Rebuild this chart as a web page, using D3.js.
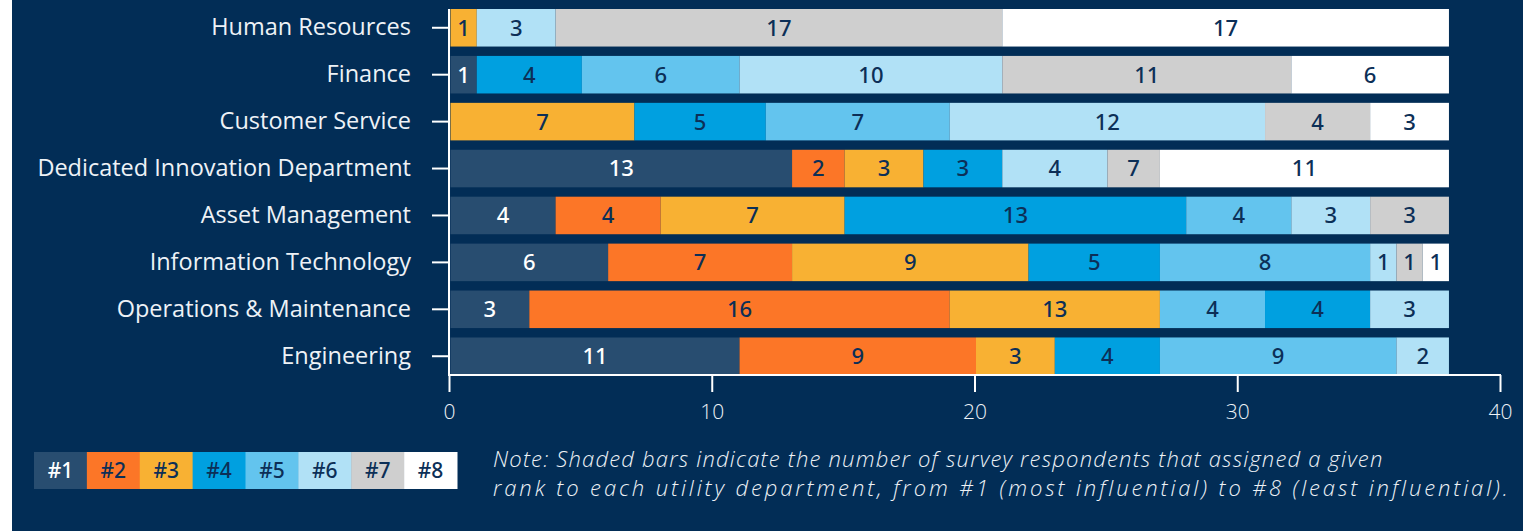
<!DOCTYPE html>
<html>
<head>
<meta charset="utf-8">
<script src="https://cdn.jsdelivr.net/npm/d3@7"></script>
<style>
  html, body { margin: 0; padding: 0; background: #fff; }
  svg { display: block; }
  .axis text { font-family: "Open Sans", sans-serif; fill: #eef2f6; }
  .axis path, .axis line { stroke: #fff; stroke-width: 2; }
</style>
</head>
<body>
<div id="chart"></div>
<script>
var categories = ["Human Resources", "Finance", "Customer Service", "Dedicated Innovation Department",
    "Asset Management", "Information Technology", "Operations & Maintenance", "Engineering"];
var ranks = ["#1", "#2", "#3", "#4", "#5", "#6", "#7", "#8"];
var rankColors = ["#284d70", "#fc7627", "#f8b133", "#00a0e0", "#63c4ee", "#b1e1f6", "#cfcfcf", "#ffffff"];

// respondents per rank, one value per category
var rank1 = [0, 1, 0, 13, 4, 6, 3, 11];
var rank2 = [0, 0, 0, 2, 4, 7, 16, 9];
var rank3 = [1, 0, 7, 3, 7, 9, 8, 3];
var rank4 = [0, 4, 5, 3, 13, 5, 4, 4];
var rank5 = [0, 6, 7, 0, 4, 8, 4, 9];
var rank6 = [3, 10, 12, 4, 3, 1, 3, 2];
var rank7 = [17, 11, 4, 2, 3, 1, 0, 0];
var rank8 = [17, 6, 3, 11, 0, 1, 0, 0];
var series = [rank1, rank2, rank3, rank4, rank5, rank6, rank7, rank8];

// labels printed in the source that differ from the drawn width
var labelOverride = {"Dedicated Innovation Department|#7": "7", "Operations & Maintenance|#3": "13"};
// the source stacks #5 before #4 in this row
var stackOrder = {"Operations & Maintenance": [0, 1, 2, 4, 3, 5, 6, 7]};

var xTicks = [0, 10, 20, 30, 40];
var note = ["Note: Shaded bars indicate the number of survey respondents that assigned a given",
    "rank to each utility department, from #1 (most influential) to #8 (least influential)."];

var W = 1532, H = 531;
var navy = "#022d56", darkText = "#0c2f57";

var svg = d3.select("#chart").append("svg")
    .attr("width", W)
    .attr("height", H);

svg.append("rect")
    .attr("x", 12).attr("y", 0)
    .attr("width", 1511).attr("height", H)
    .attr("fill", navy);

var x = d3.scaleLinear().domain([0, 40]).range([449, 1500]);
var y = d3.scaleBand().domain(categories).range([9, 375]).paddingInner(0.2).paddingOuter(0);

// build segments
var segments = [];
categories.forEach(function(cat, ci){
    var order = stackOrder[cat] || d3.range(ranks.length);
    var acc = 0;
    order.forEach(function(ri){
        var v = series[ri][ci];
        if (v > 0) {
            var key = cat + "|" + ranks[ri];
            segments.push({cat: cat, rank: ri, x0: acc, x1: acc + v,
                label: labelOverride[key] || String(v)});
        }
        acc += v;
    });
});

var bars = svg.append("g").attr("transform", "translate(1.5,0)");
bars.selectAll("rect")
    .data(segments)
    .enter().append("rect")
    .attr("x", function(d){ return x(d.x0); })
    .attr("y", function(d){ return y(d.cat); })
    .attr("width", function(d){ return x(d.x1) - x(d.x0); })
    .attr("height", y.bandwidth())
    .attr("fill", function(d){ return rankColors[d.rank]; });

bars.selectAll("text")
    .data(segments)
    .enter().append("text")
    .attr("x", function(d){ return (x(d.x0) + x(d.x1)) / 2; })
    .attr("y", function(d){ return y(d.cat) + y.bandwidth() / 2; })
    .attr("dy", "0.36em")
    .attr("text-anchor", "middle")
    .style("font-family", "'Noto Sans', sans-serif")
    .style("font-size", "22px")
    .style("font-weight", 500)
    .attr("fill", function(d){ return d.rank === 0 ? "#ffffff" : darkText; })
    .text(function(d){ return d.label; });

// axes
var yAxis = d3.axisLeft(y).tickSize(17).tickPadding(21).tickSizeOuter(0);
var gy = svg.append("g")
    .attr("class", "axis")
    .attr("transform", "translate(" + 449 + ",0)")
    .call(yAxis);
gy.select(".domain").attr("d", "M0,9V375");
gy.selectAll("text").style("font-size", "23.5px").style("font-weight", 400);

var xAxis = d3.axisBottom(x).tickValues(xTicks).tickSize(17).tickPadding(12).tickSizeOuter(0);
var gx = svg.append("g")
    .attr("class", "axis")
    .attr("transform", "translate(0," + 375 + ")")
    .call(xAxis);
gx.select(".domain").attr("d", "M448,0H1501");
gx.selectAll("text").style("font-size", "21px").style("font-weight", 300);

// legend
var lx = d3.scaleBand().domain(ranks).range([34, 457]);
var legend = svg.append("g").attr("transform", "translate(0,452)");
legend.selectAll("rect")
    .data(ranks)
    .enter().append("rect")
    .attr("x", function(d){ return lx(d); })
    .attr("y", 0)
    .attr("width", lx.bandwidth() + 0.5)
    .attr("height", 37)
    .attr("fill", function(d, i){ return rankColors[i]; });
legend.selectAll("text")
    .data(ranks)
    .enter().append("text")
    .attr("x", function(d){ return lx(d) + lx.bandwidth() / 2; })
    .attr("y", 18.5)
    .attr("dy", "0.36em")
    .attr("text-anchor", "middle")
    .style("font-family", "'Noto Sans', sans-serif")
    .style("font-size", "21px")
    .style("font-weight", 500)
    .attr("fill", function(d, i){ return i === 0 ? "#ffffff" : darkText; })
    .text(function(d){ return d; });

// note
svg.append("g").selectAll("text")
    .data(note)
    .enter().append("text")
    .attr("x", 493)
    .attr("y", function(d, i){ return 467 + i * 29; })
    .style("font-family", "'Open Sans', sans-serif")
    .style("font-style", "italic")
    .style("font-size", "22px")
    .style("font-weight", 300)
    .style("letter-spacing", function(d, i){ return i === 0 ? "1.2px" : "2.9px"; })
    .attr("fill", "#eef2f6")
    .text(function(d){ return d; });
</script>
</body>
</html>
